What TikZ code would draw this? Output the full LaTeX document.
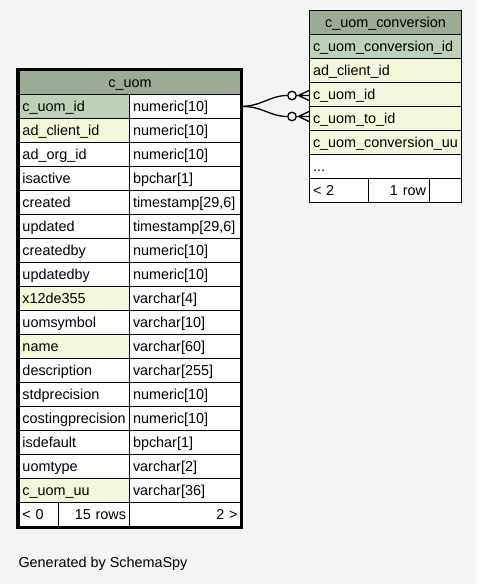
\documentclass[tikz,border=0pt]{standalone}
\usepackage{fontspec}
\setmainfont{Liberation Sans}
\definecolor{headbg}{HTML}{9BAB96}
\definecolor{pkbg}{HTML}{BED1B8}
\definecolor{fkbg}{HTML}{F4F7DA}
\definecolor{pagebg}{HTML}{F4F4F4}
\begin{document}
\begin{tikzpicture}[x=1pt,y=-1pt,
    cell/.style={draw=black, line width=1pt, fill=white, anchor=north west,
      minimum height=24pt, inner xsep=3.5pt, inner ysep=0pt,
      text height=11pt, text depth=1pt, font=\fontsize{14.4}{17}\selectfont},
    uname/.style={cell, text width=103.5pt, align=left},
    utype/.style={cell, text width=104.5pt, align=left},
    cname/.style={cell, text width=145pt, align=left},
    ring/.style={circle, draw=black, line width=1.3pt, fill=pagebg,
      minimum size=8.5pt, inner sep=0pt},
    link/.style={line width=1.3pt}]
      \fill[pagebg] (0,0) rectangle (477,584);
      % table c_uom
      \node[cell, fill=headbg, text width=215pt, align=center] (uomhead) at (18.5,70) {c\_uom};
      \node[uname, fill=pkbg] (uomid) at (18.5,94) {c\_uom\_id};
      \node[utype] (uomidtype) at (129,94) {numeric[10]};
      \node[uname, fill=fkbg] (uomclient) at (18.5,118) {ad\_client\_id};
      \node[utype] (uomclienttype) at (129,118) {numeric[10]};
      \node[uname] (uomorg) at (18.5,142) {ad\_org\_id};
      \node[utype] (uomorgtype) at (129,142) {numeric[10]};
      \node[uname] (uomactive) at (18.5,166) {isactive};
      \node[utype] (uomactivetype) at (129,166) {bpchar[1]};
      \node[uname] (uomcreated) at (18.5,190) {created};
      \node[utype] (uomcreatedtype) at (129,190) {timestamp[29,6]};
      \node[uname] (uomupdated) at (18.5,214) {updated};
      \node[utype] (uomupdatedtype) at (129,214) {timestamp[29,6]};
      \node[uname] (uomcreatedby) at (18.5,238) {createdby};
      \node[utype] (uomcreatedbytype) at (129,238) {numeric[10]};
      \node[uname] (uomupdatedby) at (18.5,262) {updatedby};
      \node[utype] (uomupdatedbytype) at (129,262) {numeric[10]};
      \node[uname, fill=fkbg] (uomx12) at (18.5,286) {x12de355};
      \node[utype] (uomx12type) at (129,286) {varchar[4]};
      \node[uname] (uomsymbol) at (18.5,310) {uomsymbol};
      \node[utype] (uomsymboltype) at (129,310) {varchar[10]};
      \node[uname, fill=fkbg] (uomname) at (18.5,334) {name};
      \node[utype] (uomnametype) at (129,334) {varchar[60]};
      \node[uname] (uomdesc) at (18.5,358) {description};
      \node[utype] (uomdesctype) at (129,358) {varchar[255]};
      \node[uname] (uomstdprec) at (18.5,382) {stdprecision};
      \node[utype] (uomstdprectype) at (129,382) {numeric[10]};
      \node[uname] (uomcostprec) at (18.5,406) {costingprecision};
      \node[utype] (uomcostprectype) at (129,406) {numeric[10]};
      \node[uname] (uomdefault) at (18.5,430) {isdefault};
      \node[utype] (uomdefaulttype) at (129,430) {bpchar[1]};
      \node[uname] (uomtype) at (18.5,454) {uomtype};
      \node[utype] (uomtypetype) at (129,454) {varchar[2]};
      \node[uname, fill=fkbg] (uomuu) at (18.5,478) {c\_uom\_uu};
      \node[utype] (uomuutype) at (129,478) {varchar[36]};
      \node[cell, text width=32.5pt, align=left] (uomparents) at (18.5,502) {< 0};
      \node[cell, text width=64pt, align=right] (uomrows) at (58,502) {15 rows};
      \node[utype, align=right] (uomchildren) at (129,502) {2 >};
      \draw[line width=3pt] (17.5,69.5) rectangle (241.5,527);
      % table c_uom_conversion
      \node[cname, fill=headbg, align=center] (convhead) at (309,10) {c\_uom\_conversion};
      \node[cname, fill=pkbg] (convid) at (309,34) {c\_uom\_conversion\_id};
      \node[cname, fill=fkbg] (convclient) at (309,58) {ad\_client\_id};
      \node[cname, fill=fkbg] (convuom) at (309,82) {c\_uom\_id};
      \node[cname, fill=fkbg] (convuomto) at (309,106) {c\_uom\_to\_id};
      \node[cname, fill=fkbg] (convuu) at (309,130) {c\_uom\_conversion\_uu};
      \node[cname] (convmore) at (309,154) {...};
      \node[cell, text width=52pt, align=left] (convparents) at (309,178) {< 2};
      \node[cell, text width=54pt, align=right] (convrows) at (368,178) {1 row};
      \node[cell, text width=25pt] (convchildren) at (429,178) {};
      % relationships
      \node[ring] (ring1) at (292,95.5) {};
      \node[ring] (ring2) at (292,116.5) {};
      \coordinate (foot1) at (298.5,95.5);
      \coordinate (foot2) at (298.5,116.5);
      \draw[link] (uomidtype.east) .. controls (262,106) and (270,95.5) .. (ring1.west);
      \draw[link] (uomidtype.east) .. controls (262,106) and (270,116.5) .. (ring2.west);
      \draw[link] (convuom.west |- foot1) ++(0,-5) -- (foot1) -- (convuom.west |- foot1) ++(0,5) -- (foot1);
      \draw[link] (foot1) -- (convuom.west |- foot1);
      \draw[link] (convuomto.west |- foot2) ++(0,-5) -- (foot2) -- (convuomto.west |- foot2) ++(0,5) -- (foot2);
      \draw[link] (foot2) -- (convuomto.west |- foot2);
      \node[anchor=west, font=\fontsize{14.4}{17}\selectfont] (credit) at (15,564) {Generated by SchemaSpy};
    \end{tikzpicture}
\end{document}
